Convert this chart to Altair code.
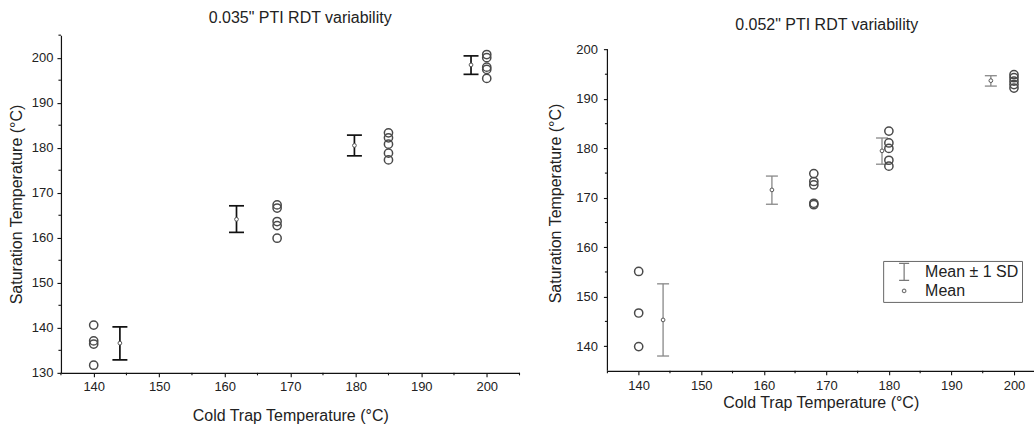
import altair as alt
import pandas as pd

FONT = "Liberation Sans"
TXT = "#222222"

# ---------------- data: 0.035" panel ----------------
L_raw_x = [140, 140, 140, 140,
           168, 168, 168, 168, 168,
           185, 185, 185, 185, 185,
           200, 200, 200, 200, 200]
L_raw_y = [140.6, 137.1, 136.4, 131.7,
           167.3, 166.6, 163.6, 162.7, 159.9,
           183.3, 182.2, 180.8, 178.8, 177.3,
           200.7, 200.0, 197.9, 197.4, 195.4]
L_mean_x = [144.0, 161.8, 179.8, 197.6]
L_mean_y = [136.6, 164.1, 180.5, 198.4]
L_lo = [132.9, 161.2, 178.2, 196.3]
L_hi = [140.2, 167.1, 182.8, 200.4]
L_x_major = [140, 150, 160, 170, 180, 190, 200]
L_x_minor = [135, 145, 155, 165, 175, 185, 195, 205]
L_y_major = [130, 140, 150, 160, 170, 180, 190, 200]
L_y_minor = [135, 145, 155, 165, 175, 185, 195, 205]

# ---------------- data: 0.052" panel ----------------
R_raw_x = [140, 140, 140,
           168, 168, 168, 168, 168,
           180, 180, 180, 180, 180,
           200, 200, 200, 200, 200]
R_raw_y = [155.1, 146.7, 139.9,
           174.9, 173.3, 172.6, 168.9, 168.6,
           183.5, 181.1, 180.0, 177.6, 176.4,
           194.9, 194.3, 193.6, 192.9, 192.2]
R_mean_x = [143.9, 161.3, 178.9, 196.3]
R_mean_y = [145.3, 171.6, 179.5, 193.7]
R_lo = [138.0, 168.7, 176.8, 192.6]
R_hi = [152.6, 174.4, 182.1, 194.7]
R_x_major = [140, 150, 160, 170, 180, 190, 200]
R_x_minor = [135, 145, 155, 165, 175, 185, 195]
R_y_major = [140, 150, 160, 170, 180, 190, 200]
R_y_minor = [145, 155, 165, 175, 185, 195]
R_y_axis_span = [135, 200]

LEGEND_ITEMS = ["Mean \u00b1 1 SD", "Mean"]
X_TITLE = "Cold Trap Temperature (\u00b0C)"
Y_TITLE = "Saturation Temperature (\u00b0C)"

I_PATH = "M-2.9,-4.9H2.9M0,-4.9V4.9M-2.9,4.9H2.9"
AX = "#111111"
PT = "#4a4a4a"


def axis(values, extent, lpad, tpad, title, domain=True):
    return alt.Axis(values=values, grid=False, tickSize=4, domain=domain,
                    labelPadding=lpad, titlePadding=tpad, title=title,
                    minExtent=extent, maxExtent=extent, domainColor=AX,
                    tickColor=AX, domainWidth=1.2, tickWidth=1.1,
                    labelFontSize=13, titleFontSize=16, labelColor=TXT,
                    titleColor=TXT, titleFontWeight="normal", labelFont=FONT,
                    titleFont=FONT, labelFlush=False, labelOverlap=False)


def panel(raw_x, raw_y, mx, my, lo, hi, xdom, ydom, xmaj, xmin, ymaj, ymin,
          w, h, title, bar_color, bar_w, cap, xext, xlp, xtp, yext, ylp, ytp,
          legend=None, y_span=None):
    raw = pd.DataFrame({"x": raw_x, "y": raw_y})
    stats = pd.DataFrame({"x": mx, "y": my, "lo": lo, "hi": hi,
                          "series": ["Mean"] * len(mx)})
    xs = alt.Scale(domain=xdom, nice=False, zero=False)
    ys = alt.Scale(domain=ydom, nice=False, zero=False)
    xax = axis(xmaj, xext, xlp, xtp, X_TITLE)
    yax = axis(ymaj, yext, ylp, ytp, Y_TITLE, domain=y_span is None)

    def X(f):
        return alt.X(f, type="quantitative", scale=xs, axis=xax)

    def Y(f):
        return alt.Y(f, type="quantitative", scale=ys, axis=yax)

    pts = alt.Chart(raw).mark_point(shape="circle", size=68, filled=False,
                                     color=PT, strokeWidth=1.5,
                                     opacity=1).encode(x=X("x"), y=Y("y"))
    base = alt.Chart(stats)
    rule = base.mark_rule(color=bar_color, strokeWidth=bar_w).encode(
        x=X("x"), y=Y("lo"), y2="hi")
    cap_lo = base.mark_tick(orient="horizontal", size=cap, thickness=bar_w,
                            color=bar_color, opacity=1).encode(x=X("x"), y=Y("lo"))
    cap_hi = base.mark_tick(orient="horizontal", size=cap, thickness=bar_w,
                            color=bar_color, opacity=1).encode(x=X("x"), y=Y("hi"))
    mean_bg = base.mark_circle(size=14, color="white", opacity=1).encode(
        x=X("x"), y=Y("y"))
    mean_mark = base.mark_point(size=14, filled=False, color="#555555",
                                strokeWidth=1, opacity=1)
    if legend is not None:
        mean = mean_mark.encode(
            x=X("x"), y=Y("y"),
            shape=alt.Shape("series:N",
                            scale=alt.Scale(domain=LEGEND_ITEMS,
                                            range=[I_PATH, "circle"]),
                            legend=legend))
    else:
        mean = mean_mark.encode(x=X("x"), y=Y("y"))

    xminor = alt.Chart(pd.DataFrame({"v": xmin})).mark_rule(
        color=AX, strokeWidth=1.1).encode(
        x=X("v"), y=alt.value(h), y2=alt.value(h + 2.5))
    yminor = alt.Chart(pd.DataFrame({"v": ymin})).mark_rule(
        color=AX, strokeWidth=1.1).encode(
        y=Y("v"), x=alt.value(0), x2=alt.value(-2.5))
    layers = [rule, cap_lo, cap_hi, mean_bg, mean, pts, xminor, yminor]
    if y_span is not None:
        span = pd.DataFrame({"x": [xdom[0]], "lo": [y_span[0]], "hi": [y_span[1]]})
        layers.append(alt.Chart(span).mark_rule(color=AX, strokeWidth=1.2).encode(
            x=X("x"), y=Y("lo"), y2="hi"))
    return alt.layer(*layers).properties(width=w, height=h, title=title)


left = panel(L_raw_x, L_raw_y, L_mean_x, L_mean_y, L_lo, L_hi,
             [135, 205], [130, 205],
             L_x_major, L_x_minor, L_y_major, L_y_minor,
             459, 338,
             alt.TitleParams(text="0.035\" PTI RDT variability", fontSize=16,
                             font=FONT, fontWeight="normal", color=TXT,
                             offset=9, frame="group", anchor="middle", dx=10),
             "#111111", 1.7, 15,
             21, 4, 14, 30, 4, 6)

legend = alt.Legend(title=None, orient="none", legendX=276, legendY=226,
                    strokeColor="#666666", padding=3, symbolSize=12,
                    symbolStrokeColor="#777777", symbolOffset=10,
                    symbolStrokeWidth=1.2,
                    labelFontSize=16, labelFont=FONT,
                    labelColor=TXT, labelOffset=13, rowPadding=0)

right = panel(R_raw_x, R_raw_y, R_mean_x, R_mean_y, R_lo, R_hi,
              [135, 203.2], [135, 202.9],
              R_x_major, R_x_minor, R_y_major, R_y_minor,
              427, 336,
              alt.TitleParams(text="0.052\" PTI RDT variability",
                              fontSize=16, font=FONT,
                              fontWeight="normal", color=TXT, offset=2,
                              frame="group", anchor="middle", dx=6),
              "#888888", 1.3, 12,
              19, 5, 5, 30, 6, 14,
              legend=legend, y_span=R_y_axis_span)

chart = alt.hconcat(left, right, spacing=27).resolve_legend(
    shape="independent").properties(
    padding={"left": 9, "top": 9, "right": 0, "bottom": 0},
    background="white",
).configure_view(stroke=None)

chart.save("out.html", embed_options={"renderer": "svg", "actions": False})
